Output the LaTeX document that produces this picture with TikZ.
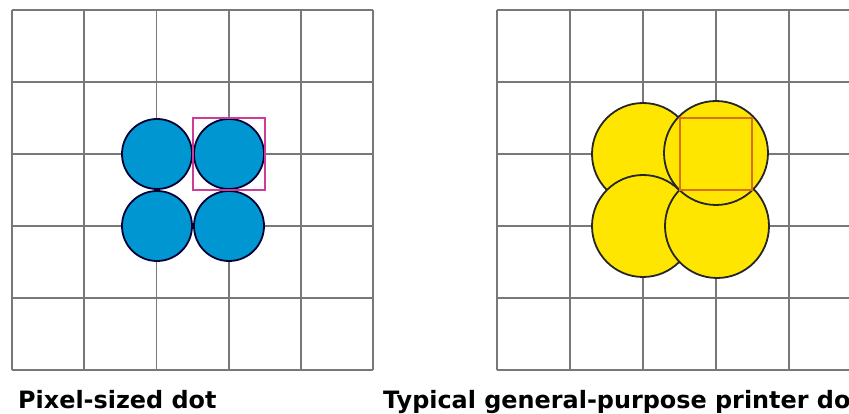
\documentclass[tikz,border=0pt]{standalone}
\usepackage{fontspec}
\setsansfont{DejaVu Sans}

\definecolor{gridgray}{RGB}{120,120,120}
\definecolor{dotblue}{RGB}{0,150,210}
\definecolor{dotyellow}{RGB}{255,230,0}
\definecolor{pixmagenta}{RGB}{205,60,150}
\definecolor{pixorange}{RGB}{215,115,10}

\tikzset{
  gridline/.style={line width=1.8pt, gridgray},
  bluedot/.style={fill=dotblue, draw=black!80!blue, line width=1.8pt},
  yellowdot/.style={fill=dotyellow, draw=black!85, line width=1.8pt},
  pixelbox/.style={line width=1.8pt},
  caption/.style={anchor=base west, inner sep=0pt, font=\sffamily\bfseries\fontsize{23.9}{28}\selectfont},
}

\begin{document}
\begin{tikzpicture}[x=1pt,y=-1pt]
\useasboundingbox (0,0) rectangle (849,414);
\clip (0,0) rectangle (849,414);
\fill[white] (0,0) rectangle (849,414);
% left grid
\foreach \i in {0,...,5} {
  \draw[gridline] ({12+72.2*\i},10) -- ({12+72.2*\i},370);
  \draw[gridline] (12,{10+72*\i}) -- (373,{10+72*\i});
}
% right grid, runs off the edge
\foreach \i in {0,...,5} {
  \draw[gridline] ({497+73*\i},10) -- ({497+73*\i},370);
  \draw[gridline] (497,{10+72*\i}) -- (862,{10+72*\i});
}
% pixel-sized dots
\draw[bluedot] (157,154) circle[radius=35];
\draw[bluedot] (229,154) circle[radius=35];
\draw[bluedot] (157,226) circle[radius=35];
\draw[bluedot] (229,226) circle[radius=35];
\draw[pixelbox, pixmagenta] (193,118) rectangle (265,190);
% printer dots
\draw[yellowdot] (643,154) circle[radius=51];
\draw[yellowdot] (643,226) circle[radius=51];
\draw[yellowdot] (717,226) circle[radius=52];
\draw[yellowdot] (716,153) circle[radius=52];
\draw[pixelbox, pixorange] (680,118) rectangle (752,190);
% captions
\node[caption] (pixcap) at (18,408) {Pixel-sized dot};
\node[caption] (printcap) at (383,408) {Typical general-purpose printer do};
\end{tikzpicture}
\end{document}
